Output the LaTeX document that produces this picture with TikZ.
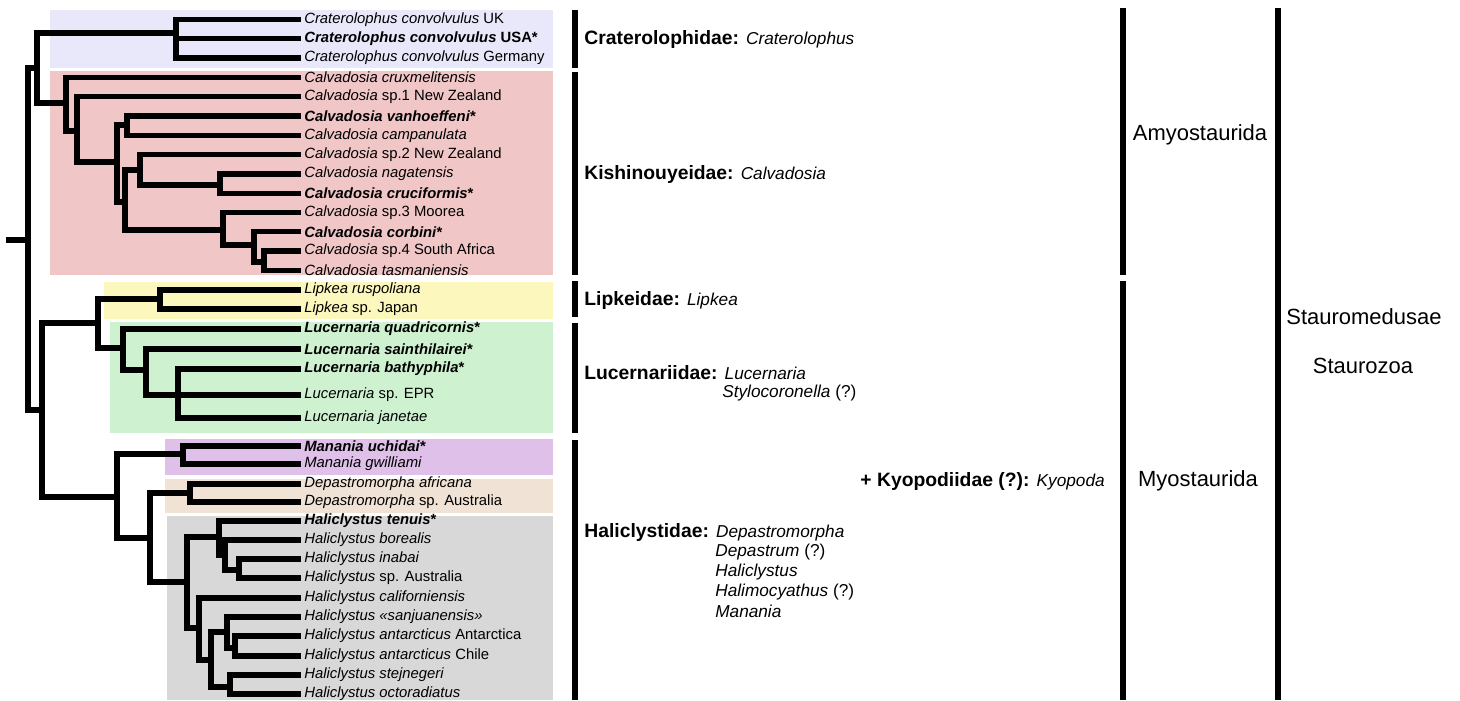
\documentclass[tikz,border=0pt]{standalone}
\usepackage{fontspec}
\setmainfont{Liberation Sans}
\definecolor{lav}{RGB}{232,232,250}
\definecolor{rose}{RGB}{240,198,198}
\definecolor{lemon}{RGB}{252,247,188}
\definecolor{mint}{RGB}{206,242,208}
\definecolor{lilac}{RGB}{222,192,232}
\definecolor{sand}{RGB}{240,226,212}
\definecolor{ash}{RGB}{216,216,216}
\newcommand{\gen}[1]{{\fontsize{9.8}{12}\selectfont\itshape #1}}

\begin{document}
\begin{tikzpicture}[x=0.02cm,y=-0.02cm,
	branch/.style={line width=3pt,line cap=rect},
	bar/.style={line width=3pt},
	obar/.style={line width=3.8pt},
	leaf/.style={anchor=west,inner xsep=3.4pt,inner ysep=0pt,font=\fontsize{8.45}{10}\selectfont},
	fam/.style={anchor=west,inner sep=0pt,font=\fontsize{11}{13}\selectfont},
	sub/.style={anchor=west,inner sep=0pt,font=\fontsize{9.8}{12}\selectfont},
	ord/.style={inner sep=0pt,font=\fontsize{12.5}{15}\selectfont}]
\useasboundingbox (0,0) rectangle (1460,700);
% clade boxes
\fill[lav] (50,10) rectangle (553,68);
\fill[rose] (50,71) rectangle (553,275);
\fill[lemon] (104,282) rectangle (553,319);
\fill[mint] (110,322) rectangle (553,433);
\fill[lilac] (165,439) rectangle (553,475);
\fill[sand] (165,479) rectangle (553,513);
\fill[ash] (167,516) rectangle (553,700);
% leaves
\foreach[count=\c] \y/\t in {
	19.5/{\textit{Craterolophus convolvulus} UK},
	38.8/{\textbf{\textit{Craterolophus convolvulus} USA*}},
	58.1/{\textit{Craterolophus convolvulus} Germany},
	77.4/{\textit{Calvadosia cruxmelitensis}},
	96.7/{\textit{Calvadosia} sp.1 New Zealand},
	116/{\textbf{\textit{Calvadosia vanhoeffeni}*}},
	135.3/{\textit{Calvadosia campanulata}},
	154.6/{\textit{Calvadosia} sp.2 New Zealand},
	173.9/{\textit{Calvadosia nagatensis}},
	193.2/{\textbf{\textit{Calvadosia cruciformis}*}},
	212.5/{\textit{Calvadosia} sp.3 Moorea},
	231.8/{\textbf{\textit{Calvadosia corbini}*}},
	251.1/{\textit{Calvadosia} sp.4 South Africa},
	270.4/{\textit{Calvadosia tasmaniensis}},
	290/{\textit{Lipkea ruspoliana}},
	309/{\textit{Lipkea} sp. Japan},
	329/{\textbf{\textit{Lucernaria quadricornis}*}},
	349/{\textbf{\textit{Lucernaria sainthilairei}*}},
	369/{\textbf{\textit{Lucernaria bathyphila}*}},
	395/{\textit{Lucernaria} sp. EPR},
	418/{\textit{Lucernaria janetae}},
	446/{\textbf{\textit{Manania uchidai}*}},
	464/{\textit{Manania gwilliami}},
	484/{\textit{Depastromorpha africana}},
	502/{\textit{Depastromorpha} sp. Australia},
	521/{\textbf{\textit{Haliclystus tenuis}*}},
	540/{\textit{Haliclystus borealis}},
	559/{\textit{Haliclystus inabai}},
	578/{\textit{Haliclystus} sp. Australia},
	598/{\textit{Haliclystus californiensis}},
	617/{\textit{Haliclystus «sanjuanensis»}},
	636/{\textit{Haliclystus antarcticus} Antarctica},
	656/{\textit{Haliclystus antarcticus} Chile},
	675/{\textit{Haliclystus stejnegeri}},
	694/{\textit{Haliclystus octoradiatus}}}
	\node[leaf] (l\c) at (298,\y) {\t};
% inner nodes
\coordinate (r0) at (9,240);
\coordinate (r) at (28,240);
\coordinate (a1) at (37,68);
\coordinate (crat) at (176,33);
\coordinate (calv) at (66,103);
\coordinate (c2) at (77,131);
\coordinate (c3) at (117,162);
\coordinate (c4) at (127,125);
\coordinate (c5) at (125,202);
\coordinate (c6) at (140,170);
\coordinate (c7) at (220,185);
\coordinate (c8) at (223,230);
\coordinate (c9) at (254,245);
\coordinate (c10) at (264,262);
\coordinate (h) at (42,410);
\coordinate (lu) at (98,323);
\coordinate (lip) at (160,299);
\coordinate (luc1) at (123,348);
\coordinate (luc2) at (146,370);
\coordinate (luc3) at (178,395);
\coordinate (m) at (117,497);
\coordinate (man) at (183,454);
\coordinate (n) at (150,538);
\coordinate (dep) at (190,493);
\coordinate (hal1) at (187,582);
\coordinate (hal2) at (219,537);
\coordinate (hal3) at (225,555);
\coordinate (hal4) at (239,570);
\coordinate (hal5) at (199,628);
\coordinate (hal6) at (211,660);
\coordinate (hal7) at (227,632);
\coordinate (hal8) at (235,648);
\coordinate (hal9) at (230,687);
% branches
\draw[branch] (r0) -- (r);
\foreach \a/\b in {r/a1,r/h,a1/crat,a1/calv,crat/l1,crat/l2,crat/l3,
	calv/l4,calv/c2,c2/l5,c2/c3,c3/c4,c3/c5,c4/l6,c4/l7,c5/c6,c5/c8,
	c6/l8,c6/c7,c7/l9,c7/l10,c8/l11,c8/c9,c9/l12,c9/c10,c10/l13,c10/l14,
	h/lu,h/m,lu/lip,lu/luc1,lip/l15,lip/l16,luc1/l17,luc1/luc2,
	luc2/l18,luc2/luc3,luc3/l19,luc3/l20,luc3/l21,
	m/man,m/n,man/l22,man/l23,n/dep,n/hal1,dep/l24,dep/l25,
	hal1/hal2,hal1/hal5,hal2/l26,hal2/hal3,hal3/l27,hal3/hal4,hal4/l28,hal4/l29,
	hal5/l30,hal5/hal6,hal6/hal7,hal6/hal9,hal7/l31,hal7/hal8,hal8/l32,hal8/l33,
	hal9/l34,hal9/l35}
	\draw[branch] (\a) |- (\b);
% family bars
\foreach \ya/\yb in {10/68,72/275,281/317,323/433,440/700}
	\draw[bar] (575,\ya) -- (575,\yb);
\node[fam] (crf) at (584,40) {\textbf{Craterolophidae:} \gen{Craterolophus}};
\node[fam] (kif) at (584,174) {\textbf{Kishinouyeidae:} \gen{Calvadosia}};
\node[fam] (lpf) at (584,300) {\textbf{Lipkeidae:} \gen{Lipkea}};
\node[fam] (luf) at (584,373) {\textbf{Lucernariidae:} \gen{Lucernaria}};
\node[sub] (sty) at (722,393) {\textit{Stylocoronella} (?)};
\node[fam] (haf) at (584,532) {\textbf{Haliclystidae:} \gen{Depastromorpha}};
\foreach[count=\c] \y/\t in {552/{\textit{Depastrum} (?)},572/{\textit{Haliclystus}},
	592/{\textit{Halimocyathus} (?)},611/{\textit{Manania}}}
	\node[sub] (hg\c) at (715,\y) {\t};
\node[fam,anchor=east] (kyf) at (1105,481) {\textbf{+ Kyopodiidae (?):} \gen{Kyopoda}};
% orders
\draw[obar] (1123,8) -- (1123,275);
\draw[obar] (1123,281) -- (1123,700);
\draw[obar] (1278,8) -- (1278,700);
\node[ord] (amy) at (1200,135) {Amyostaurida};
\node[ord] (myo) at (1198,481) {Myostaurida};
\node[ord] (stm) at (1364,317) {Stauromedusae};
\node[ord] (stz) at (1363,366) {Staurozoa};
\end{tikzpicture}
\end{document}
